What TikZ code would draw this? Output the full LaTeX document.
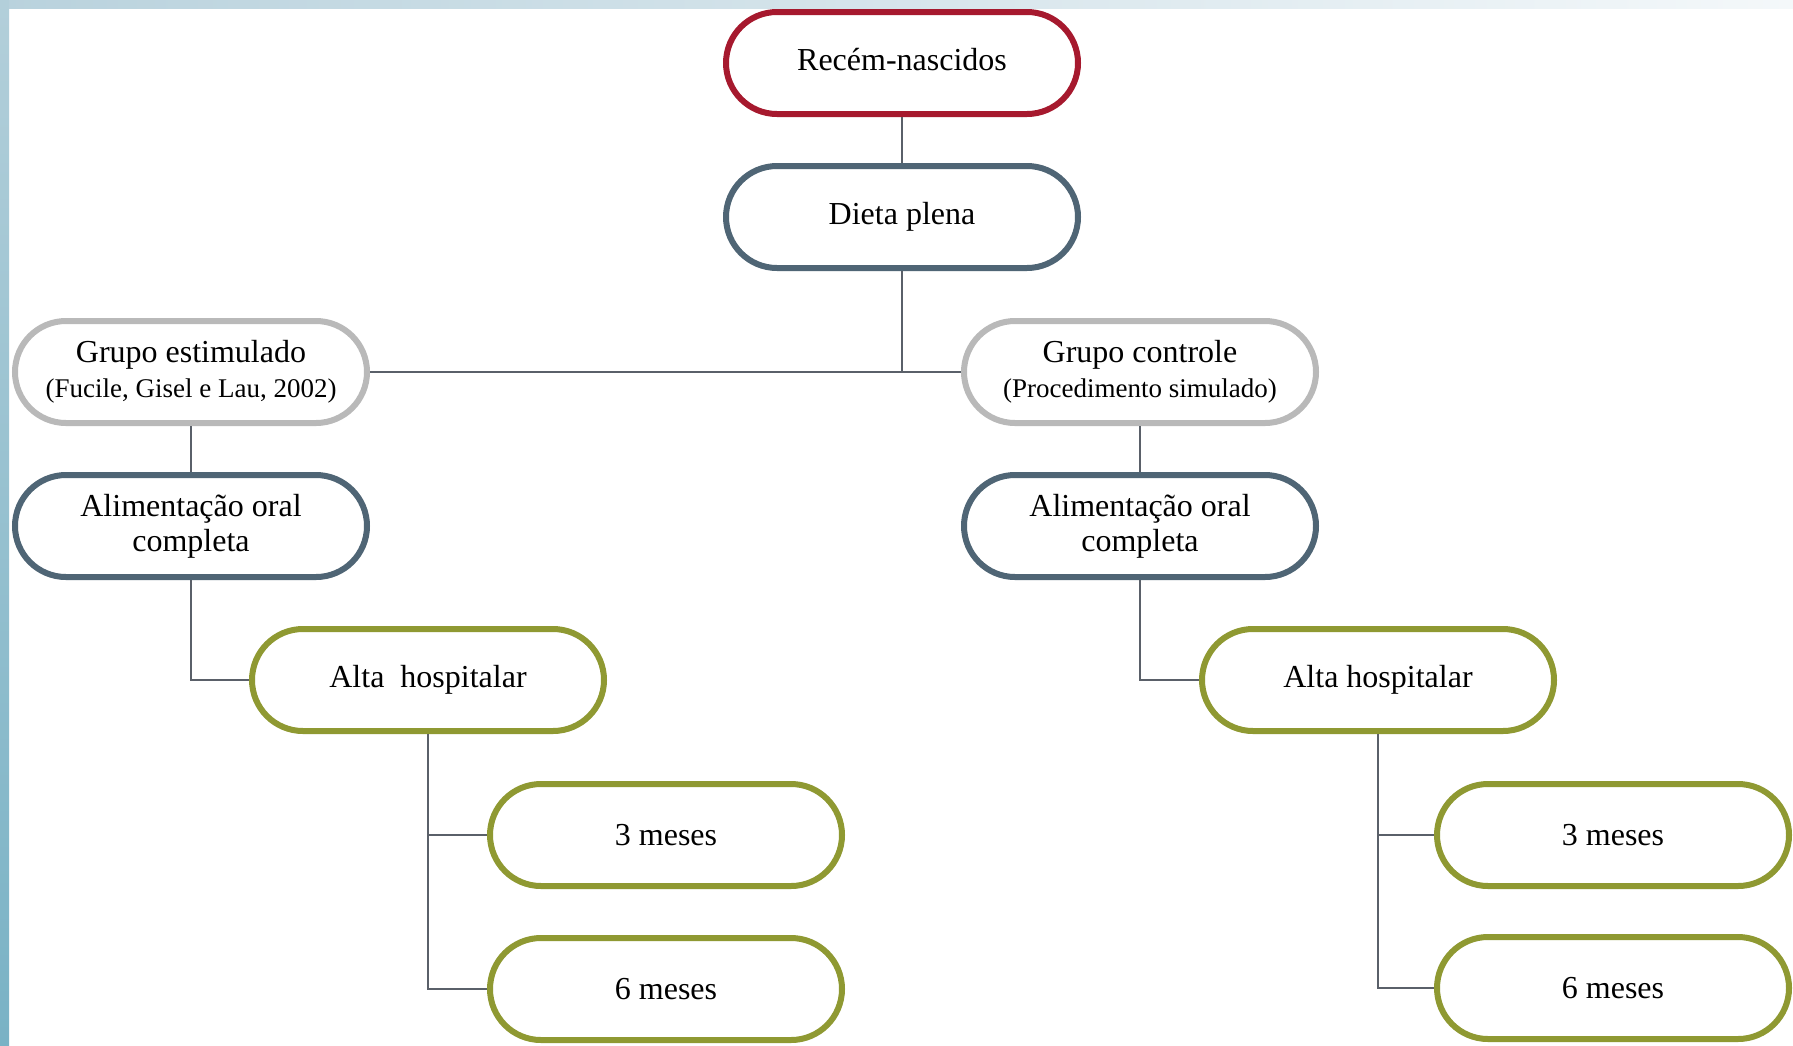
\documentclass[tikz,border=0pt]{standalone}
\usepackage{fontspec}
\setmainfont{Liberation Serif}
\usetikzlibrary{shapes.misc}
\definecolor{rnred}{RGB}{166,25,46}
\definecolor{slate}{RGB}{79,101,117}
\definecolor{pale}{RGB}{185,185,185}
\definecolor{olive}{RGB}{143,153,50}
\definecolor{conn}{RGB}{90,96,105}
\definecolor{stripA}{RGB}{185,210,221}
\definecolor{stripB}{RGB}{244,248,250}
\definecolor{sideA}{RGB}{179,207,218}
\definecolor{sideB}{RGB}{121,178,197}
\tikzset{
  pill/.style={rounded rectangle, draw, line width=3pt, fill=white,
    minimum width=176pt, minimum height=51pt, inner sep=0pt,
    align=center, font=\fontsize{16}{17.5}\selectfont},
  redpill/.style={pill, draw=rnred},
  slatepill/.style={pill, draw=slate},
  palepill/.style={pill, draw=pale},
  olivepill/.style={pill, draw=olive},
  link/.style={draw=conn, line width=0.9pt}
}
\newcommand{\subline}[1]{{\fontsize{13.5}{19}\selectfont #1}}
\begin{document}
\begin{tikzpicture}[x=0.5pt,y=-0.5pt]
\useasboundingbox (0,0) rectangle (1793,1045);
\fill[white] (0,0) rectangle (1793,1045);
\shade[left color=stripA, right color=stripB] (0,0) rectangle (1793,8);
\shade[top color=sideA, bottom color=sideB] (0,0) rectangle (9,1045);

\node[redpill] (rn) at (902,63) {Recém-nascidos\vphantom{p}};
\node[slatepill] (dp) at (902,217) {Dieta plena};
\node[palepill] (ge) at (191,372) {Grupo estimulado\\\subline{(Fucile, Gisel e Lau, 2002)}};
\node[palepill] (gc) at (1140,372) {Grupo controle\\\subline{(Procedimento simulado)}};
\node[slatepill] (al) at (191,526) {Alimentação oral\\completa};
\node[slatepill] (ar) at (1140,526) {Alimentação oral\\completa};
\node[olivepill] (hl) at (428,680) {Alta\ \ hospitalar};
\node[olivepill] (hr) at (1378,680) {Alta hospitalar};
\node[olivepill] (m3l) at (666,835) {3 meses};
\node[olivepill] (m6l) at (666,989) {6 meses};
\node[olivepill] (m3r) at (1613,835) {3 meses};
\node[olivepill] (m6r) at (1613,988) {6 meses};

\path[link] (rn.south) -- (dp.north);
\path[link] (dp.south) -- (dp.south |- ge.east);
\path[link] (ge.east) -- (gc.west);
\path[link] (ge.south) -- (al.north);
\path[link] (gc.south) -- (ar.north);
\path[link] (al.south) |- (hl.west);
\path[link] (ar.south) |- (hr.west);
\path[link] (hl.south) |- (m6l.west);
\path[link] (hl.south |- m3l.west) -- (m3l.west);
\path[link] (hr.south) |- (m6r.west);
\path[link] (hr.south |- m3r.west) -- (m3r.west);
\end{tikzpicture}
\end{document}
